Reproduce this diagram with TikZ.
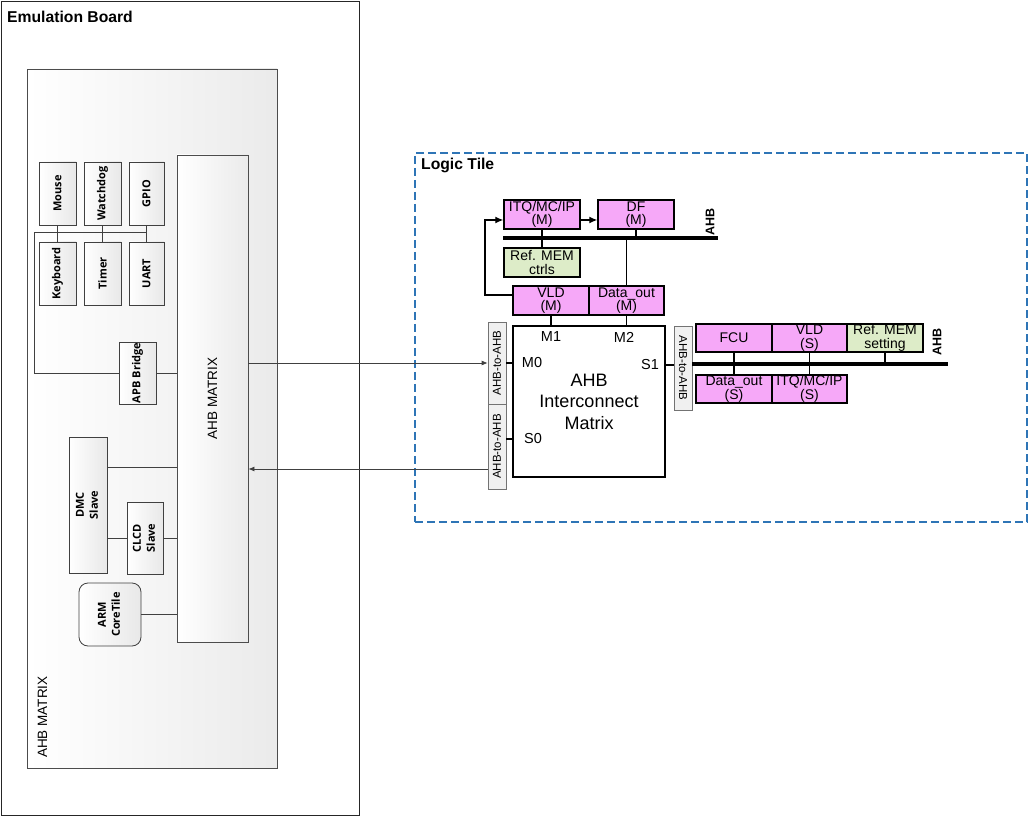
\documentclass[tikz,border=0pt]{standalone}
\usepackage{fontspec}
\setmainfont{Liberation Sans}
\newfontfamily\segoe{Open Sans}
\usepackage{graphicx}
\usetikzlibrary{arrows.meta}
\definecolor{pinkbox}{RGB}{246,168,248}
\definecolor{greenbox}{RGB}{221,236,200}
\definecolor{tileblue}{RGB}{46,117,182}
\tikzset{
  periph/.style={draw=black!75, line width=0.8pt, left color=white, right color=black!9, inner sep=0pt,
    font=\segoe\fontsize{11}{14}\selectfont\bfseries, align=center},
  pbox/.style={draw=black, line width=1.4pt, fill=pinkbox, inner sep=0pt, minimum height=29pt,
    font=\fontsize{14}{13.5}\selectfont, align=center},
  gbox/.style={pbox, fill=greenbox},
  a2a/.style={draw=black!55, line width=0.7pt, fill=black!6, inner sep=0pt, minimum width=18pt,
    font=\fontsize{11.5}{12}\selectfont},
  port/.style={inner sep=0pt, font=\fontsize{14.5}{16}\selectfont},
  buslbl/.style={inner sep=0pt, rotate=90, font=\fontsize{12.5}{14}\selectfont\bfseries},
  wire/.style={draw=black!75, line width=0.8pt},
  bwire/.style={draw=black, line width=1.3pt},
  bus/.style={draw=black, line width=4pt},
  garrow/.style={wire, -{Latex[length=6pt,width=5pt]}},
  barrow/.style={bwire, -{Latex[length=8pt,width=7pt]}},
}
\begin{document}
\begin{tikzpicture}[x=1pt,y=-1pt]
\useasboundingbox (0,0) rectangle (1028,818);

% ---------------- Emulation board ----------------
\node[draw=black!85, line width=1.6pt, minimum width=358pt, minimum height=814pt, inner sep=0pt] (emu) at (180.5,408.5) {};
\node[anchor=base west, inner sep=0pt, font=\fontsize{15.7}{18}\selectfont\bfseries] (emutitle) at (7,23) {Emulation Board};

\node[draw=black!70, line width=0.8pt, left color=white, right color=black!8,
      minimum width=250pt, minimum height=699pt, inner sep=0pt] (cont) at (152,418.5) {};
\node[rotate=90, anchor=base west, inner sep=0pt, font=\fontsize{13.5}{16}\selectfont] (contlbl) at (47,758) {AHB MATRIX};

\node[draw=black!70, line width=0.8pt, left color=white, right color=black!8, inner sep=0pt,
      minimum width=71pt, minimum height=487pt, font=\fontsize{13.5}{16}\selectfont] (ahbm) at (212.5,398.5) {\rotatebox{90}{AHB MATRIX}};

\node[periph, minimum width=37pt, minimum height=63pt] (mouse) at (57.5,193.5) {\rotatebox{90}{Mouse}};
\node[periph, minimum width=37pt, minimum height=63pt] (watchdog) at (102.5,193.5) {\rotatebox{90}{Watchdog}};
\node[periph, minimum width=35pt, minimum height=63pt] (gpio) at (146.5,193.5) {\rotatebox{90}{GPIO}};
\node[periph, minimum width=37pt, minimum height=63pt] (keyboard) at (57.5,273.5) {\rotatebox{90}{Keyboard}};
\node[periph, minimum width=37pt, minimum height=63pt] (timer) at (102.5,273.5) {\rotatebox{90}{Timer}};
\node[periph, minimum width=35pt, minimum height=63pt] (uart) at (146.5,273.5) {\rotatebox{90}{UART}};
\node[periph, minimum width=37pt, minimum height=62pt] (apb) at (137.5,373) {\rotatebox{90}{APB Bridge}};
\node[periph, minimum width=38pt, minimum height=136pt] (dmc) at (88,505) {\rotatebox{90}{\begin{tabular}{@{}c@{}}DMC\\Slave\end{tabular}}};
\node[periph, minimum width=36pt, minimum height=72pt] (clcd) at (145,538) {\rotatebox{90}{\begin{tabular}{@{}c@{}}CLCD\\Slave\end{tabular}}};
\node[periph, rounded corners=9pt, minimum width=62pt, minimum height=63pt] (arm) at (110,614.5) {\rotatebox{90}{\begin{tabular}{@{}c@{}}ARM\\CoreTile\end{tabular}}};

\draw[wire] (mouse) -- (keyboard);
\draw[wire] (watchdog) -- (timer);
\draw[wire] (gpio) -- (uart);
\coordinate (busL) at (34,232);
\coordinate (busR) at (146.5,232);
\draw[wire] (busR) -- (busL) |- (apb.west);
\draw[wire] (apb.east) -- (apb.east -| ahbm.west);
\coordinate (dmcy) at (0,467);
\coordinate (clcdy) at (0,538);
\coordinate (army) at (0,614);
\draw[wire] (dmc.east |- dmcy) -- (ahbm.west |- dmcy);
\draw[wire] (dmc.east |- clcdy) -- (clcd.west);
\draw[wire] (clcd.east) -- (ahbm.west |- clcdy);
\draw[wire] (arm.east |- army) -- (ahbm.west |- army);

% ---------------- Logic tile ----------------
\node[draw=tileblue, line width=1.3pt, dash pattern=on 8pt off 4pt, minimum width=612pt, minimum height=369pt, inner sep=0pt] (tile) at (721,337.5) {};
\node[anchor=base west, inner sep=0pt, font=\fontsize{15.7}{18}\selectfont\bfseries] (tiletitle) at (421,170) {Logic Tile};

\node[a2a, minimum height=82pt] (a2aU) at (497,363) {\rotatebox{90}{AHB-to-AHB}};
\node[a2a, minimum height=85pt] (a2aL) at (497,446.5) {\rotatebox{90}{AHB-to-AHB}};
\node[a2a, minimum height=84pt] (a2aR) at (683,368) {\rotatebox{-90}{AHB-to-AHB}};

\node[draw=black, line width=1.3pt, fill=white, minimum width=152pt, minimum height=151pt, inner sep=0pt,
      align=center, font=\fontsize{18}{21.5}\selectfont] (icm) at (589,401.5) {AHB\\Interconnect\\Matrix};
\node[port] (m1) at (551,337) {M1};
\node[port] (m2) at (624,337) {M2};
\node[port] (m0) at (532,363) {M0};
\node[port] (s0) at (533,439) {S0};
\node[port] (s1) at (650,365) {S1};

\draw[bwire] (a2aU.east |- m0) -- (icm.west |- m0);
\draw[bwire] (a2aL.east |- s0) -- (icm.west |- s0);
\draw[bwire] (icm.east |- s1) -- (a2aR.west |- s1);

% links between the boards
\coordinate (outy) at (0,363);
\coordinate (iny) at (0,469);
\draw[garrow] (ahbm.east |- outy) -- (a2aU.west |- outy);
\draw[garrow] (a2aL.west |- iny) -- (ahbm.east |- iny);

% upper AHB
\node[pbox, minimum width=76pt] (itqm) at (542,214.5) {ITQ/MC/IP\\(M)};
\node[pbox, minimum width=76pt] (dfm) at (636,214.5) {DF\\(M)};
\node[gbox, minimum width=76pt] (refc) at (542,262.5) {Ref. MEM\\ctrls};
\node[pbox, minimum width=76pt] (vldm) at (551,300.5) {VLD\\(M)};
\node[pbox, minimum width=75pt] (dom) at (626.5,300.5) {Data\_out\\(M)};
\coordinate (ubL) at (503,238.5);
\coordinate (ubR) at (718,238.5);
\draw[bus] (ubL) -- (ubR);
\node[buslbl] (ahbup) at (710,222) {AHB};
\draw[bwire] (itqm) -- (refc);
\draw[bwire] (dfm.south) -- (dfm.south |- ubL);
\draw[bwire] (dom.north |- ubL) -- (dom.north);
\draw[bwire] (vldm.south) -- (vldm.south |- icm.north);
\draw[bwire] (dom.south) -- (dom.south |- icm.north);
\coordinate (ay) at (0,220);
\coordinate (vy) at (0,295);
\coordinate (lx) at (485,0);
\draw[barrow] (itqm.east |- ay) -- (dfm.west |- ay);
\draw[barrow] (vldm.west |- vy) -| (lx |- ay) -- (itqm.west |- ay);

% right AHB
\node[pbox, minimum width=76pt, minimum height=28pt] (fcu) at (734,338) {FCU};
\node[pbox, minimum width=75pt, minimum height=28pt] (vlds) at (809.5,338) {VLD\\(S)};
\node[gbox, minimum width=76pt, minimum height=28pt] (refs) at (885,338) {Ref. MEM\\setting};
\node[pbox, minimum width=76pt, minimum height=28pt] (dos) at (734,389) {Data\_out\\(S)};
\node[pbox, minimum width=75pt, minimum height=28pt] (itqs) at (809.5,389) {ITQ/MC/IP\\(S)};
\coordinate (rbR) at (948,364);
\draw[bus] (a2aR.east |- rbR) -- (rbR);
\node[buslbl] (ahbright) at (937,342) {AHB};
\draw[bwire] (fcu) -- (dos);
\draw[bwire] (vlds) -- (itqs);
\draw[bwire] (refs.south) -- (refs.south |- rbR);
\end{tikzpicture}
\end{document}
